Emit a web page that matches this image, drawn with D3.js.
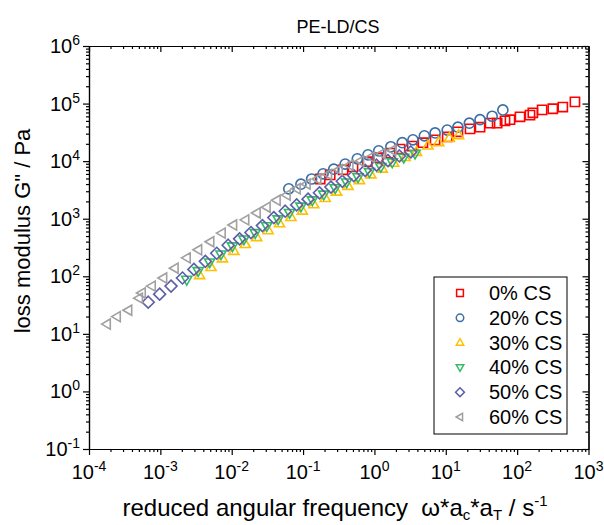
<!DOCTYPE html>
<meta charset="utf-8">
<style>
body { margin: 0; background: #fff; }
text { font-family: "Liberation Sans", Arial, sans-serif; fill: #000; white-space: pre; }
.axis path, .axis line { stroke: #000; stroke-width: 1.2; }
</style>
<body>
<svg width="604" height="525"></svg>
<script src="https://d3js.org/d3.v7.min.js"></script>
<script>
// series: [log10 frequency, log10 G'']
var seriesNames = ["0% CS", "20% CS", "30% CS", "40% CS", "50% CS", "60% CS"];
var seriesColors = ["#ff0000", "#3a6ea5", "#ffc000", "#33bb66", "#5c5ea8", "#a0a0a0"];
var seriesShapes = ["square", "circle", "up", "down", "diamond", "left"];

var cs0 = [[-0.76,3.69],[-0.62,3.76],[-0.44,3.85],[-0.30,3.90],[-0.10,3.99],[0.05,4.06],[0.22,4.14],[0.36,4.21],
  [0.53,4.26],[0.68,4.32],[0.85,4.37],[1.02,4.42],[1.17,4.51],[1.34,4.56],[1.48,4.59],[1.62,4.66],[1.72,4.66],
  [1.83,4.70],[1.90,4.72],[2.04,4.77],[2.18,4.80],[2.22,4.84],[2.35,4.89],[2.50,4.91],[2.64,4.94],[2.81,5.03]];
var cs20 = [[-1.20,3.52],[-1.03,3.60],[-0.88,3.69],[-0.72,3.78],[-0.57,3.86],[-0.41,3.95],[-0.24,4.04],[-0.09,4.11],
  [0.06,4.18],[0.23,4.25],[0.39,4.32],[0.54,4.37],[0.70,4.44],[0.85,4.49],[1.02,4.54],[1.17,4.59],[1.33,4.66],
  [1.48,4.72],[1.65,4.78],[1.80,4.89]];
var cs30 = [[-2.45,2.02],[-2.29,2.16],[-2.13,2.31],[-1.97,2.44],[-1.81,2.56],[-1.65,2.68],[-1.49,2.80],[-1.33,2.92],
  [-1.17,3.03],[-1.01,3.14],[-0.85,3.25],[-0.69,3.36],[-0.53,3.47],[-0.37,3.57],[-0.21,3.67],[-0.05,3.77],
  [0.11,3.87],[0.27,3.97],[0.43,4.07],[0.59,4.16],[0.75,4.27],[0.90,4.33],[1.05,4.40],[1.18,4.45]];
var cs40 = [[-2.63,1.94],[-2.47,2.09],[-2.31,2.24],[-2.15,2.38],[-1.99,2.52],[-1.83,2.64],[-1.67,2.75],[-1.51,2.87],
  [-1.35,2.99],[-1.19,3.10],[-1.03,3.21],[-0.87,3.32],[-0.71,3.42],[-0.55,3.53],[-0.39,3.63],[-0.23,3.72],
  [-0.07,3.81],[0.09,3.90],[0.25,3.98],[0.41,4.06],[0.57,4.13]];
var cs50 = [[-3.17,1.55],[-3.01,1.69],[-2.85,1.83],[-2.69,1.97],[-2.53,2.12],[-2.37,2.26],[-2.21,2.40],[-2.05,2.54],
  [-1.89,2.65],[-1.73,2.76],[-1.57,2.88],[-1.41,3.02],[-1.25,3.13],[-1.09,3.24],[-0.93,3.34],[-0.77,3.45],
  [-0.61,3.55],[-0.45,3.65],[-0.29,3.75],[-0.13,3.84],[0.03,3.93],[0.19,4.01],[0.35,4.09],[0.51,4.16]];
var cs60 = [[-3.75,1.17],[-3.61,1.30],[-3.45,1.41],[-3.30,1.62],[-3.26,1.71],[-3.12,1.83],[-2.96,1.97],[-2.80,2.14],
  [-2.63,2.32],[-2.47,2.46],[-2.30,2.60],[-2.14,2.75],[-1.98,2.89],[-1.81,2.98],[-1.65,3.10],[-1.51,3.20],
  [-1.37,3.32],[-1.23,3.41],[-1.09,3.52],[-0.95,3.60],[-0.80,3.69],[-0.65,3.77],[-0.50,3.85],[-0.35,3.93],
  [-0.20,4.00],[-0.05,4.07],[0.10,4.13],[0.25,4.19]];
var allSeries = [cs0, cs20, cs30, cs40, cs50, cs60];

var xExps = [-4, -3, -2, -1, 0, 1, 2, 3];
var yExps = [-1, 0, 1, 2, 3, 4, 5, 6];

var svg = d3.select("svg");
var pLeft = 89, pRight = 588.5, pTop = 46, pBottom = 449;

var x = d3.scaleLog().domain([1e-4, 1e3]).range([pLeft, pRight]);
var y = d3.scaleLog().domain([1e-1, 1e6]).range([pBottom, pTop]);

function minors(lo, hi) {
  var out = [];
  for (var e = lo; e < hi; e++)
    for (var m = 2; m <= 9; m++) out.push(m * Math.pow(10, e));
  return out;
}
var xMajor = xExps.map(function(e) { return Math.pow(10, e); });
var yMajor = yExps.map(function(e) { return Math.pow(10, e); });

function addAxis(gen, scale, vals, size, tr) {
  svg.append("g").attr("class", "axis").attr("transform", tr)
    .call(gen(scale).tickValues(vals).tickSize(size).tickSizeOuter(0).tickFormat(function() { return ""; }));
}
// bottom & left ticks outward, top & right ticks inward
addAxis(d3.axisBottom, x, xMajor, 6, "translate(0," + pBottom + ")");
addAxis(d3.axisBottom, x, minors(-4, 3), 3, "translate(0," + pBottom + ")");
addAxis(d3.axisBottom, x, xMajor, 6, "translate(0," + pTop + ")");
addAxis(d3.axisBottom, x, minors(-4, 3), 3, "translate(0," + pTop + ")");
addAxis(d3.axisLeft, y, yMajor, 6, "translate(" + pLeft + ",0)");
addAxis(d3.axisLeft, y, minors(-1, 6), 3, "translate(" + pLeft + ",0)");
addAxis(d3.axisLeft, y, yMajor, 6, "translate(" + pRight + ",0)");
addAxis(d3.axisLeft, y, minors(-1, 6), 3, "translate(" + pRight + ",0)");

svg.selectAll(".axis text").remove();

// tick labels
xExps.forEach(function(e) {
  var t = svg.append("text").attr("x", x(Math.pow(10, e))).attr("y", 479)
    .attr("text-anchor", "middle").style("font-size", "20px");
  t.append("tspan").text("10");
  t.append("tspan").attr("dy", -8).style("font-size", "14px").text(e);
});
yExps.forEach(function(e) {
  var t = svg.append("text").attr("x", 80).attr("y", y(Math.pow(10, e)) + 7)
    .attr("text-anchor", "end").style("font-size", "20px");
  t.append("tspan").text("10");
  t.append("tspan").attr("dy", -8).style("font-size", "14px").text(e);
});

// markers
function marker(shape, s) {
  var r = s;
  if (shape === "square") return "M" + (-r) + "," + (-r) + "h" + (2 * r) + "v" + (2 * r) + "h" + (-2 * r) + "Z";
  if (shape === "circle") return d3.arc()({innerRadius: 0, outerRadius: r * 1.1, startAngle: 0, endAngle: 2 * Math.PI});
  if (shape === "up") return "M0," + (-r * 1.15) + "L" + (r * 1.1) + "," + (r * 0.75) + "L" + (-r * 1.1) + "," + (r * 0.75) + "Z";
  if (shape === "down") return "M0," + (r * 1.15) + "L" + (r * 1.1) + "," + (-r * 0.75) + "L" + (-r * 1.1) + "," + (-r * 0.75) + "Z";
  if (shape === "left") return "M" + (-r * 1.15) + ",0L" + (r * 0.75) + "," + (-r * 1.1) + "L" + (r * 0.75) + "," + (r * 1.1) + "Z";
  if (shape === "diamond") return "M0," + (-r * 1.3) + "L" + (r * 1.3) + ",0L0," + (r * 1.3) + "L" + (-r * 1.3) + ",0Z";
}

allSeries.forEach(function(data, i) {
  svg.append("g").selectAll("path").data(data).enter().append("path")
    .attr("d", marker(seriesShapes[i], 4.6))
    .attr("transform", function(d) { return "translate(" + x(Math.pow(10, d[0])) + "," + y(Math.pow(10, d[1])) + ")"; })
    .attr("fill", "none").attr("stroke", seriesColors[i]).attr("stroke-width", 1.6);
});

// legend
svg.append("rect").attr("x", 434).attr("y", 277).attr("width", 133).attr("height", 157)
  .attr("fill", "#fff").attr("stroke", "#000").attr("stroke-width", 1);
seriesNames.forEach(function(n, i) {
  var ly = 293 + i * 24.8;
  svg.append("path").attr("d", marker(seriesShapes[i], 3.4))
    .attr("transform", "translate(460," + ly + ")")
    .attr("fill", "none").attr("stroke", seriesColors[i]).attr("stroke-width", 1.5);
  svg.append("text").attr("x", 489).attr("y", ly + 7).style("font-size", "20px").text(n);
});

// titles
svg.append("text").attr("x", 338).attr("y", 33).attr("text-anchor", "middle")
  .style("font-size", "18px").text("PE-LD/CS");

svg.append("text").attr("transform", "translate(30,231) rotate(-90)")
  .attr("text-anchor", "middle").style("font-size", "22px").text("loss modulus G\" / Pa");

var xl = svg.append("text").attr("x", 335).attr("y", 516).attr("text-anchor", "middle").style("font-size", "24px");
xl.append("tspan").text("reduced angular frequency  \u03c9*a");
xl.append("tspan").attr("dy", 4).style("font-size", "15px").text("c");
xl.append("tspan").attr("dy", -4).text("*a");
xl.append("tspan").attr("dy", 4).style("font-size", "15px").text("T");
xl.append("tspan").attr("dy", -4).text(" / s");
xl.append("tspan").attr("dy", -10).style("font-size", "15px").text("-1");
</script>
</body>
